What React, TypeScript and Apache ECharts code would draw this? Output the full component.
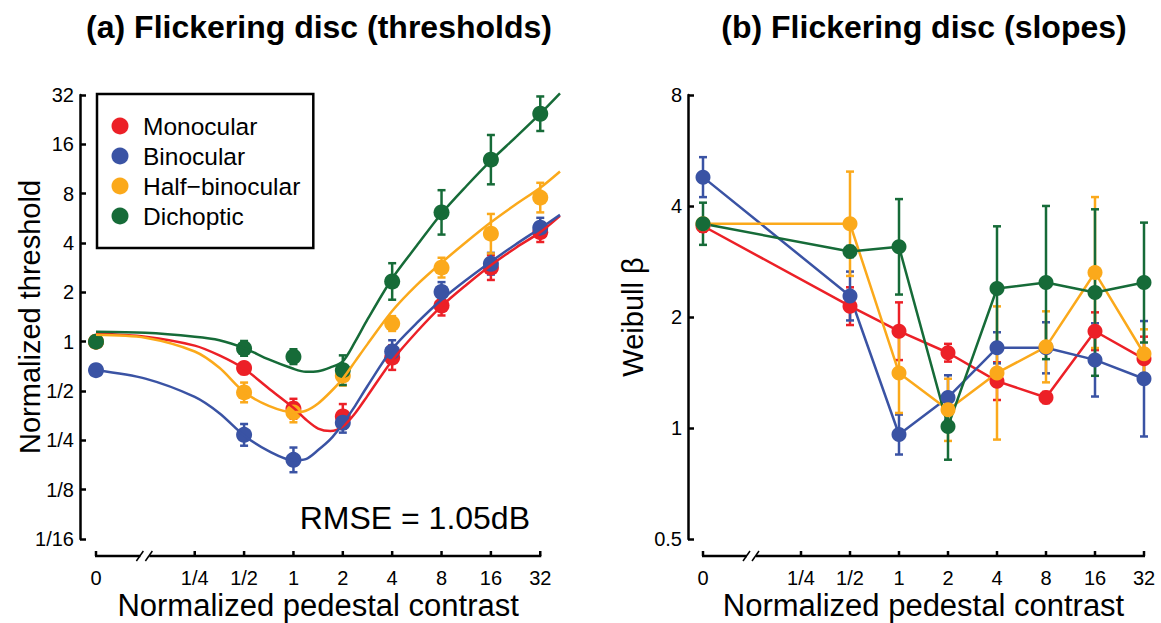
import React, { useEffect, useRef } from "react";
import * as echarts from "echarts";

const FONT = '"Liberation Sans", Arial, Helvetica, sans-serif';

// Pedestal categories and their positions on the (log2) axis; 0 is drawn at the break
const PEDESTALS = ["0", "1/2", "1", "2", "4", "8", "16", "32"];
const PED_POS = [-4, -1, 0, 1, 2, 3, 4, 5];
const X_TICK_POS = [-4, -2, -1, 0, 1, 2, 3, 4, 5];
const X_TICK_LABELS = ["0", "1/4", "1/2", "1", "2", "4", "8", "16", "32"];

const SERIES_NAMES = ["Monocular", "Binocular", "Half\u2212binocular", "Dichoptic"];
const COLORS = ["#EC2027", "#3A53A4", "#FBA91B", "#166B38"];

// (a) thresholds (normalized) and error half-widths (log2 units)
const thrMono = [1.0, 0.69, 0.39, 0.35, 0.8, 1.66, 2.83, 4.66];
const thrBino = [0.67, 0.27, 0.19, 0.32, 0.87, 2.01, 2.99, 4.96];
const thrHalf = [1.0, 0.49, 0.37, 0.62, 1.29, 2.83, 4.56, 7.57];
const thrDich = [1.0, 0.91, 0.81, 0.67, 2.33, 6.15, 12.9, 24.6];
const thrErrMono = [0.1, 0.12, 0.2, 0.25, 0.25, 0.2, 0.25, 0.2];
const thrErrBino = [0.1, 0.22, 0.25, 0.2, 0.23, 0.2, 0.22, 0.2];
const thrErrHalf = [0.1, 0.2, 0.2, 0.2, 0.15, 0.2, 0.4, 0.3];
const thrErrDich = [0.1, 0.15, 0.15, 0.3, 0.37, 0.45, 0.5, 0.35];

// (a) model fit curves at these axis positions
const CURVE_X = [-4, -3, -2, -1.5, -1, -0.5, 0, 0.25, 0.5, 0.75, 1, 1.25, 1.5, 2, 2.5, 3, 3.5, 4, 4.5, 5, 5.4];
const fitMono = [1.117, 1.072, 0.946, 0.824, 0.683, 0.518, 0.395, 0.335, 0.295, 0.285, 0.304, 0.366, 0.467, 0.768, 1.149, 1.647, 2.219, 2.928, 3.732, 4.66, 5.86];
const fitBino = [0.669, 0.595, 0.46, 0.366, 0.268, 0.215, 0.189, 0.192, 0.218, 0.254, 0.316, 0.406, 0.536, 0.901, 1.301, 1.803, 2.378, 3.074, 3.918, 4.925, 5.94];
const fitHalf = [1.102, 1.057, 0.871, 0.693, 0.493, 0.406, 0.371, 0.379, 0.42, 0.493, 0.595, 0.758, 0.966, 1.537, 2.219, 3.031, 4.056, 5.352, 6.868, 8.694, 10.93];
const fitDich = [1.149, 1.133, 1.072, 1.021, 0.914, 0.779, 0.683, 0.655, 0.66, 0.697, 0.758, 1.0, 1.366, 2.43, 3.86, 6.06, 8.88, 12.73, 17.63, 24.6, 32.7];

// (b) Weibull slopes and error half-widths (log2 units)
const betaMono = [3.53, 2.14, 1.83, 1.6, 1.34, 1.21, 1.83, 1.54];
const betaBino = [4.79, 2.28, 0.96, 1.21, 1.65, 1.65, 1.53, 1.36];
const betaHalf = [3.58, 3.58, 1.41, 1.12, 1.41, 1.66, 2.64, 1.59];
const betaDich = [3.58, 3.01, 3.1, 1.01, 2.39, 2.48, 2.33, 2.48];
const betaErrMono = [0.05, 0.17, 0.26, 0.08, 0.17, 0.05, 0.17, 0.2];
const betaErrBino = [0.18, 0.22, 0.18, 0.2, 0.14, 0.23, 0.33, 0.52];
const betaErrHalf = [0.05, 0.47, 0.36, 0.28, 0.6, 0.32, 0.68, 0.22];
const betaErrDich = [0.19, 0.05, 0.43, 0.3, 0.56, 0.69, 0.75, 0.54];

const Y_A_MIN = 1 / 16;
const Y_A_MAX = 32;
const Y_B_MIN = 0.5;
const Y_B_MAX = 8;

const THR = [thrMono, thrBino, thrHalf, thrDich];
const THR_ERR = [thrErrMono, thrErrBino, thrErrHalf, thrErrDich];
const FITS = [fitMono, fitBino, fitHalf, fitDich];
const BETA = [betaMono, betaBino, betaHalf, betaDich];
const BETA_ERR = [betaErrMono, betaErrBino, betaErrHalf, betaErrDich];

function errorBarSeries(values: number[], errs: number[], color: string, axisIdx: number) {
  return {
    type: "custom",
    xAxisIndex: axisIdx,
    yAxisIndex: axisIdx,
    silent: true,
    clip: false,
    data: values.map((v, i) => [PED_POS[i], v / Math.pow(2, errs[i]), v * Math.pow(2, errs[i])]),
    encode: { x: 0, y: [1, 2] },
    renderItem: (params: any, api: any) => {
      const x = api.value(0);
      const lo = api.coord([x, api.value(1)]);
      const hi = api.coord([x, api.value(2)]);
      const w = 4;
      const st = { stroke: color, lineWidth: 2.5 };
      return {
        type: "group",
        children: [
          { type: "line", shape: { x1: lo[0], y1: lo[1], x2: hi[0], y2: hi[1] }, style: st },
          { type: "line", shape: { x1: lo[0] - w, y1: lo[1], x2: lo[0] + w, y2: lo[1] }, style: st },
          { type: "line", shape: { x1: hi[0] - w, y1: hi[1], x2: hi[0] + w, y2: hi[1] }, style: st },
        ],
      };
    },
  };
}

function xAxisSeries(axisIdx: number, yMin: number) {
  return {
    type: "custom",
    xAxisIndex: axisIdx,
    yAxisIndex: axisIdx,
    silent: true,
    clip: false,
    data: X_TICK_POS.map((p, i) => [p, yMin, i]),
    encode: { x: 0, y: 1 },
    renderItem: (params: any, api: any) => {
      const x = api.value(0);
      const idx = api.value(2);
      const p = api.coord([x, yMin]);
      const ay = p[1] + 17;
      const black = { stroke: "#000", lineWidth: 2.5 };
      const children: any[] = [
        { type: "line", shape: { x1: p[0], y1: ay - 5, x2: p[0], y2: ay }, style: black },
        {
          type: "text",
          x: p[0],
          y: ay + 22,
          style: {
            text: X_TICK_LABELS[idx],
            align: "center",
            verticalAlign: "middle",
            textAlign: "center",
            textVerticalAlign: "middle",
            fontSize: 20,
            fontFamily: FONT,
            fill: "#000",
          },
        },
      ];
      if (idx === 0) {
        const x0 = api.coord([X_TICK_POS[0], yMin])[0];
        const x1 = api.coord([X_TICK_POS[X_TICK_POS.length - 1], yMin])[0];
        const bx = api.coord([-3, yMin])[0];
        children.push(
          { type: "line", shape: { x1: x0 - 1, y1: ay, x2: bx - 5, y2: ay }, style: black },
          { type: "line", shape: { x1: bx + 4, y1: ay, x2: x1 + 1, y2: ay }, style: black },
          { type: "line", shape: { x1: bx - 9, y1: ay + 5, x2: bx - 2, y2: ay - 5 }, style: { stroke: "#000", lineWidth: 1.5 } },
          { type: "line", shape: { x1: bx, y1: ay + 5, x2: bx + 7, y2: ay - 5 }, style: { stroke: "#000", lineWidth: 1.5 } },
          {
            type: "text",
            x: (x0 + x1) / 2,
            y: ay + 49,
            style: {
              text: "Normalized pedestal contrast",
              align: "center",
              verticalAlign: "middle",
              textAlign: "center",
              textVerticalAlign: "middle",
              fontSize: 31,
              fontFamily: FONT,
              fill: "#000",
            },
          }
        );
      }
      return { type: "group", children };
    },
  };
}

function yAxisCommon(gridIndex: number, min: number, max: number, offset: number, name: string, nameGap: number, fmt: (v: number) => string) {
  return {
    gridIndex,
    type: "log",
    logBase: 2,
    min,
    max,
    offset,
    position: "left",
    name,
    nameLocation: "middle",
    nameGap,
    nameMoveOverlap: false,
    nameTextStyle: { fontSize: 29, fontFamily: FONT, color: "#000" },
    axisLine: { show: true, onZero: false, lineStyle: { color: "#000", width: 2.5 } },
    axisTick: { show: true, inside: true, length: 6, lineStyle: { color: "#000", width: 2.5 } },
    axisLabel: { fontSize: 20, fontFamily: FONT, color: "#000", margin: 6, formatter: fmt },
    splitLine: { show: false },
    minorTick: { show: false },
  };
}

export default function App() {
  const ref = useRef<HTMLDivElement>(null);
  useEffect(() => {
    if (!ref.current) return;
    const chart = echarts.init(ref.current, undefined, { renderer: "svg" });
    const series: any[] = [];
    // panel (a)
    for (let k = 0; k < 4; k++) {
      series.push({
        type: "line",
        xAxisIndex: 0,
        yAxisIndex: 0,
        data: CURVE_X.map((x, i) => [x, FITS[k][i]]),
        showSymbol: false,
        smooth: 0.3,
        clip: false,
        silent: true,
        lineStyle: { color: COLORS[k], width: 2.5 },
        itemStyle: { color: COLORS[k] },
      });
      series.push(errorBarSeries(THR[k], THR_ERR[k], COLORS[k], 0));
      series.push({
        type: "scatter",
        name: SERIES_NAMES[k],
        xAxisIndex: 0,
        yAxisIndex: 0,
        data: PED_POS.map((x, i) => [x, THR[k][i]]),
        symbol: "circle",
        symbolSize: 16,
        clip: false,
        itemStyle: { color: COLORS[k], opacity: 1 },
      });
    }
    // panel (b)
    for (let k = 0; k < 4; k++) {
      series.push(errorBarSeries(BETA[k], BETA_ERR[k], COLORS[k], 1));
      series.push({
        type: "line",
        name: SERIES_NAMES[k],
        xAxisIndex: 1,
        yAxisIndex: 1,
        data: PED_POS.map((x, i) => [x, BETA[k][i]]),
        symbol: "circle",
        symbolSize: 15,
        showSymbol: true,
        clip: false,
        lineStyle: { color: COLORS[k], width: 2.5 },
        itemStyle: { color: COLORS[k], opacity: 1 },
      });
    }
    series.push(xAxisSeries(0, Y_A_MIN));
    series.push(xAxisSeries(1, Y_B_MIN));

    const titleStyle = {
      align: "center",
      verticalAlign: "middle",
      textAlign: "center",
      textVerticalAlign: "middle",
      fontSize: 32,
      fontWeight: "bold",
      fontFamily: FONT,
      fill: "#000",
    };

    const option: any = {
      animation: false,
      backgroundColor: "#fff",
      textStyle: { fontFamily: FONT },
      graphic: [
        { type: "text", x: 319, y: 27, style: { ...titleStyle, text: "(a) Flickering disc (thresholds)" } },
        { type: "text", x: 924, y: 27, style: { ...titleStyle, text: "(b) Flickering disc (slopes)" } },
        {
          type: "text",
          x: 530,
          y: 518,
          style: {
            text: "RMSE = 1.05dB",
            align: "right",
            verticalAlign: "middle",
            textAlign: "right",
            textVerticalAlign: "middle",
            fontSize: 32,
            fontFamily: FONT,
            fill: "#000",
          },
        },
      ],
      legend: {
        left: 97,
        top: 94,
        orient: "vertical",
        icon: "circle",
        itemWidth: 17,
        itemHeight: 17,
        itemGap: 5,
        padding: [19.5, 13, 19.5, 14.5],
        borderColor: "#000",
        borderWidth: 2.5,
        borderRadius: 0,
        backgroundColor: "#fff",
        selectedMode: false,
        textStyle: { fontSize: 24.5, fontFamily: FONT, color: "#000", padding: [0, 0, 0, 9.5] },
        data: SERIES_NAMES.map((n, i) => ({ name: n, icon: "circle", itemStyle: { color: COLORS[i] } })),
      },
      grid: [
        { left: 96, top: 95, width: 464, height: 444 },
        { left: 703, top: 95, width: 441, height: 444 },
      ],
      xAxis: [
        { gridIndex: 0, type: "value", min: -4, max: 5.4, show: false },
        { gridIndex: 1, type: "value", min: -4, max: 5, show: false },
      ],
      yAxis: [
        yAxisCommon(0, Y_A_MIN, Y_A_MAX, 16, "Normalized threshold", 36, (v: number) =>
          v >= 1 ? String(Math.round(v)) : "1/" + Math.round(1 / v)
        ),
        yAxisCommon(1, Y_B_MIN, Y_B_MAX, 15, "Weibull \u03b2", 41, (v: number) =>
          v >= 1 ? String(Math.round(v)) : String(Math.round(v * 100) / 100)
        ),
      ],
      series,
    };
    chart.setOption(option);
    return () => chart.dispose();
  }, []);
  return <div ref={ref} style={{ position: "fixed", left: 0, top: 0, width: 1161, height: 623 }} />;
}
